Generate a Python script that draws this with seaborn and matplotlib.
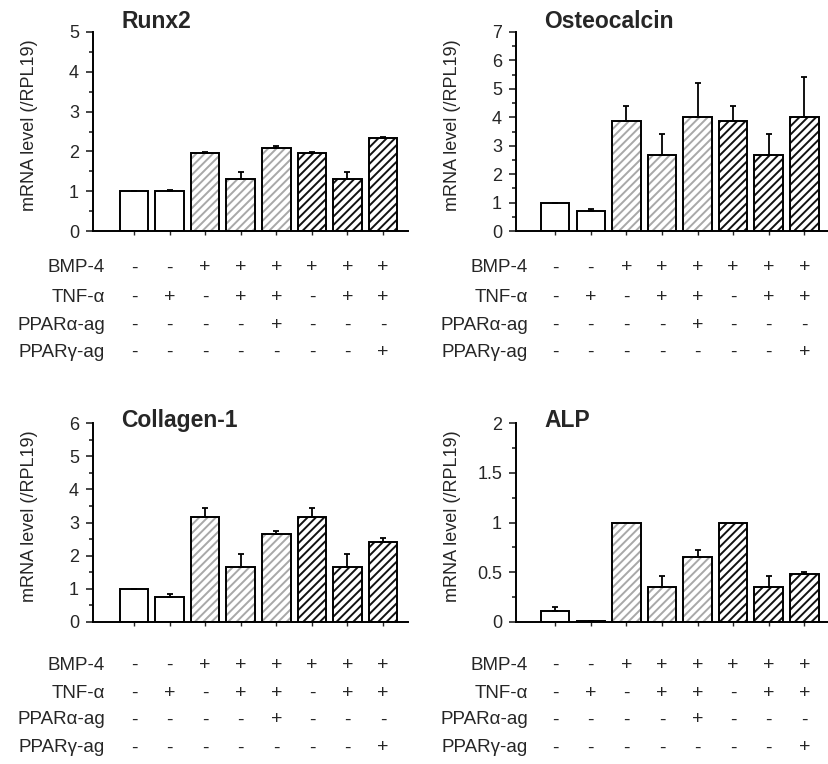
import numpy as np
import pandas as pd
import matplotlib
matplotlib.use("Agg")
import matplotlib.pyplot as plt
import matplotlib.transforms as mtransforms
from matplotlib.ticker import MultipleLocator, FuncFormatter
import seaborn as sns

# conditions (one bar each)
conds = ['C1', 'C2', 'C3', 'C4', 'C5', 'C6', 'C7', 'C8']
bar_style = ['open', 'open', 'light', 'light', 'light', 'dark', 'dark', 'dark']

row_labels = ['BMP-4', 'TNF-\u03b1', 'PPAR\u03b1-ag', 'PPAR\u03b3-ag']
bmp4 = ['-', '-', '+', '+', '+', '+', '+', '+']
tnfa = ['-', '+', '-', '+', '+', '-', '+', '+']
ppara = ['-', '-', '-', '-', '+', '-', '-', '-']
pparg = ['-', '-', '-', '-', '-', '-', '-', '+']

runx2_mean = [1.0, 1.0, 1.95, 1.31, 2.08, 1.95, 1.31, 2.34]
runx2_err = [0.0, 0.03, 0.03, 0.17, 0.06, 0.03, 0.17, 0.03]

osteo_mean = [1.0, 0.71, 3.86, 2.68, 4.01, 3.86, 2.68, 4.01]
osteo_err = [0.0, 0.08, 0.54, 0.74, 1.19, 0.54, 0.74, 1.39]

col1_mean = [1.0, 0.76, 3.18, 1.65, 2.66, 3.18, 1.65, 2.41]
col1_err = [0.0, 0.09, 0.26, 0.39, 0.09, 0.26, 0.39, 0.12]

alp_mean = [0.11, 0.01, 1.0, 0.35, 0.65, 1.0, 0.35, 0.48]
alp_err = [0.045, 0.0, 0.0, 0.115, 0.07, 0.0, 0.115, 0.025]

sns.set_style("ticks")
plt.rcParams['font.family'] = ['Liberation Sans', 'DejaVu Sans']
plt.rcParams['hatch.linewidth'] = 1.4

W, H = 829, 764
fig = plt.figure(figsize=(W / 100, H / 100), dpi=100)


def draw_panel(left, bottom, title, means, errs, ymax, ystep, xlim, title_y, rows_px):
    ax = fig.add_axes([left / W, 1 - bottom / H, 315 / W, 199 / H])
    df = pd.DataFrame({'cond': conds, 'mRNA': means})
    sns.barplot(data=df, x='cond', y='mRNA', order=conds, color='white', saturation=1,
                width=0.8, linewidth=0, errorbar=None, ax=ax)
    for patch, st in zip(ax.patches, bar_style):
        patch.set_facecolor('white')
        if st == 'light':
            patch.set_hatch('////')
            patch.set_edgecolor('#a8a8a8')
        elif st == 'dark':
            patch.set_hatch('////')
            patch.set_edgecolor('#111111')
    # outlines on top of the hatching
    sns.barplot(data=df, x='cond', y='mRNA', order=conds, color='black', fill=False,
                width=0.8, linewidth=1.4, errorbar=None, ax=ax)
    ax.errorbar(np.arange(len(conds)), means, yerr=[np.zeros(len(errs)), errs], fmt='none',
                ecolor='black', elinewidth=1.3, capsize=2.4, capthick=1.3, zorder=5)

    ax.set_xlim(*xlim)
    ax.set_ylim(0, ymax)
    ax.yaxis.set_major_locator(MultipleLocator(ystep))
    ax.yaxis.set_minor_locator(MultipleLocator(ystep / 2))
    ax.yaxis.set_major_formatter(FuncFormatter(lambda v, p: '{:g}'.format(v)))
    ax.tick_params(axis='y', which='major', length=5, width=1.2, labelsize=13, pad=5)
    ax.tick_params(axis='y', which='minor', length=3, width=1.2)
    ax.tick_params(axis='x', length=3, width=1.0, labelbottom=False)
    ax.set_xlabel('')
    ax.set_ylabel('mRNA level (/RPL19)', fontsize=13)
    ax.yaxis.set_label_coords(-0.175, 0.53)
    sns.despine(ax=ax)
    for s in ['left', 'bottom']:
        ax.spines[s].set_linewidth(1.4)
        ax.spines[s].set_color('black')

    ax.text(0.09, title_y, title, transform=ax.transAxes, fontsize=16.5, fontweight='bold',
            ha='left', va='baseline')

    trans = mtransforms.blended_transform_factory(ax.transData, fig.transFigure)
    for lab, signs, ypx in zip(row_labels, [bmp4, tnfa, ppara, pparg], rows_px):
        yf = 1 - ypx / H
        fig.text((left + 12) / W, yf, lab, ha='right', va='center', fontsize=13.5)
        for i, s in enumerate(signs):
            ax.text(i, yf, s, transform=trans, ha='center', va='center', fontsize=14)
    return ax


draw_panel(93, 231, 'Runx2', runx2_mean, runx2_err, 5, 1, (-1.15, 7.7), 1.02,
           [268, 297, 325, 352])
draw_panel(516, 231, 'Osteocalcin', osteo_mean, osteo_err, 7, 1, (-1.1, 7.75), 1.02,
           [268, 297, 325, 352])
draw_panel(93, 622, 'Collagen-1', col1_mean, col1_err, 6, 1, (-1.15, 7.7), 0.98,
           [665, 693, 720, 748])
draw_panel(516, 622, 'ALP', alp_mean, alp_err, 2, 0.5, (-1.1, 7.75), 0.98,
           [665, 693, 720, 748])

fig.savefig('out.png', dpi=100)
